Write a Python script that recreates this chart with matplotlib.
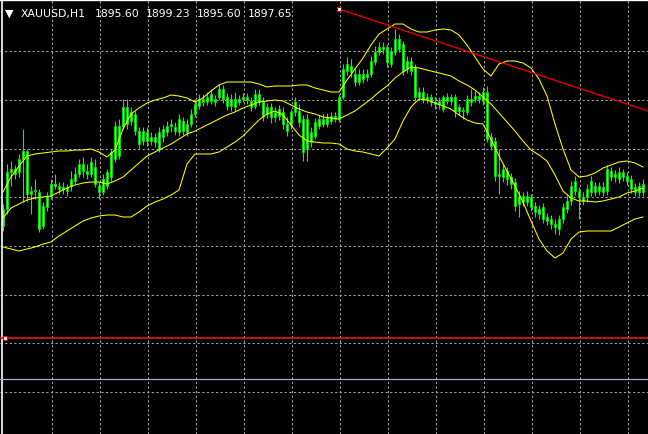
import numpy as np
import matplotlib
matplotlib.use("Agg")
import matplotlib.pyplot as plt

# XAUUSD H1 candles (prices)
opens = [1897.3, 1899.0, 1902.7, 1903.0, 1902.7, 1904.0, 1904.8, 1900.5, 1900.8, 1900.7,
         1897.3, 1899.2, 1900.3, 1901.5, 1901.3, 1901.0, 1901.2, 1901.3, 1901.8, 1902.5,
         1903.5, 1902.8, 1902.5, 1903.2, 1901.3, 1900.7, 1901.3, 1902.2, 1904.0, 1907.3,
         1907.3, 1909.2, 1907.8, 1908.5, 1906.8, 1905.8, 1906.7, 1905.8, 1906.2, 1905.0,
         1906.2, 1906.7, 1907.3, 1907.2, 1906.7, 1907.8, 1906.7, 1907.5, 1908.5, 1909.3,
         1910.0, 1909.7, 1909.8, 1910.0, 1910.2, 1911.0, 1910.2, 1909.3, 1910.0, 1909.7,
         1910.0, 1910.2, 1909.8, 1909.3, 1910.5, 1909.8, 1908.5, 1909.2, 1908.2, 1908.3,
         1908.7, 1907.5, 1907.5, 1908.7, 1908.8, 1908.0, 1905.0, 1906.7, 1906.3, 1907.3,
         1908.0, 1907.5, 1907.8, 1908.3, 1908.0, 1910.2, 1912.8, 1913.3, 1912.5, 1911.7,
         1912.5, 1912.2, 1912.5, 1913.7, 1914.7, 1915.2, 1915.2, 1913.5, 1914.7, 1916.0,
         1915.5, 1913.0, 1913.8, 1913.2, 1910.2, 1910.7, 1910.0, 1910.2, 1909.7, 1909.5,
         1910.2, 1909.8, 1910.2, 1910.2, 1908.8, 1908.8, 1908.7, 1910.0, 1910.0, 1910.3,
         1909.8, 1910.7, 1906.2, 1905.8, 1902.3, 1902.2, 1902.8, 1902.2, 1901.7, 1899.5,
         1900.3, 1899.7, 1900.2, 1899.3, 1899.0, 1899.2, 1898.2, 1898.0, 1897.5, 1897.0,
         1898.0, 1899.0, 1899.8, 1900.8, 1900.8, 1900.2, 1900.2, 1900.7, 1901.3, 1900.8,
         1901.2, 1900.8, 1902.8, 1902.2, 1902.0, 1902.7, 1902.3, 1902.0, 1901.2, 1900.7,
         1900.7]
highs = [1899.5, 1903.5, 1903.8, 1903.4, 1904.5, 1907.0, 1905.0, 1901.3, 1902.0, 1901.0,
         1899.7, 1900.7, 1902.0, 1902.5, 1901.7, 1901.7, 1901.5, 1902.8, 1903.2, 1904.0,
         1904.2, 1903.5, 1904.2, 1904.0, 1901.7, 1902.5, 1903.0, 1905.0, 1907.8, 1908.0,
         1910.0, 1910.0, 1909.2, 1908.8, 1907.2, 1907.2, 1907.2, 1906.7, 1906.6, 1907.2,
         1907.4, 1907.8, 1908.0, 1907.7, 1908.5, 1908.2, 1908.0, 1909.0, 1910.0, 1910.5,
         1910.5, 1910.7, 1911.0, 1910.4, 1911.5, 1911.4, 1910.6, 1910.5, 1910.7, 1910.4,
         1910.6, 1910.6, 1910.2, 1911.0, 1911.0, 1910.2, 1909.6, 1909.6, 1909.2, 1909.4,
         1909.2, 1908.2, 1909.0, 1910.2, 1909.5, 1908.4, 1908.5, 1907.2, 1908.1, 1908.4,
         1908.5, 1908.6, 1908.7, 1908.7, 1910.5, 1913.5, 1914.2, 1914.0, 1913.0, 1913.0,
         1913.0, 1913.0, 1914.3, 1915.3, 1915.7, 1915.7, 1915.5, 1915.2, 1917.0, 1916.5,
         1915.8, 1914.3, 1914.2, 1913.5, 1911.2, 1911.2, 1910.6, 1910.5, 1910.2, 1910.2,
         1910.4, 1910.6, 1910.5, 1910.5, 1909.5, 1909.2, 1910.4, 1911.0, 1910.8, 1910.7,
         1911.2, 1911.3, 1906.6, 1906.2, 1905.0, 1903.5, 1903.2, 1902.6, 1902.1, 1900.8,
         1900.7, 1900.8, 1900.5, 1899.7, 1899.4, 1899.6, 1898.6, 1898.4, 1898.0, 1898.4,
         1899.6, 1900.4, 1901.8, 1902.3, 1901.2, 1900.7, 1901.5, 1902.3, 1901.7, 1901.7,
         1901.7, 1903.4, 1903.2, 1902.9, 1903.2, 1903.0, 1902.7, 1902.4, 1901.6, 1901.7,
         1902.0]
lows = [1896.8, 1898.5, 1901.3, 1902.0, 1902.2, 1899.7, 1899.7, 1898.5, 1900.0, 1896.7,
        1897.0, 1898.8, 1900.0, 1901.0, 1900.5, 1900.5, 1900.3, 1900.8, 1901.5, 1902.2,
        1902.2, 1902.0, 1902.2, 1901.2, 1900.0, 1900.4, 1901.0, 1901.8, 1903.7, 1904.0,
        1907.0, 1907.0, 1907.4, 1906.4, 1905.0, 1905.4, 1905.3, 1905.4, 1905.2, 1904.7,
        1905.7, 1906.3, 1906.7, 1906.4, 1906.3, 1906.4, 1906.3, 1907.2, 1908.2, 1909.0,
        1909.3, 1909.4, 1909.5, 1909.3, 1909.9, 1909.6, 1908.9, 1908.8, 1908.8, 1909.4,
        1909.7, 1909.5, 1908.8, 1909.0, 1909.4, 1907.8, 1908.1, 1907.6, 1907.7, 1907.9,
        1907.0, 1906.3, 1907.0, 1908.3, 1907.2, 1903.8, 1903.8, 1905.2, 1906.0, 1907.0,
        1907.2, 1907.2, 1907.5, 1907.7, 1907.7, 1910.0, 1912.4, 1912.2, 1911.3, 1911.4,
        1911.6, 1911.8, 1912.2, 1913.4, 1914.4, 1914.5, 1913.2, 1913.2, 1914.4, 1914.7,
        1912.4, 1912.6, 1912.4, 1909.8, 1909.9, 1909.6, 1909.6, 1909.3, 1909.0, 1909.0,
        1908.7, 1909.5, 1909.4, 1908.2, 1908.4, 1908.0, 1908.4, 1909.3, 1909.7, 1909.6,
        1909.4, 1905.7, 1904.9, 1901.8, 1900.5, 1901.7, 1901.4, 1901.0, 1898.8, 1898.2,
        1899.3, 1899.3, 1898.8, 1898.2, 1898.0, 1897.6, 1897.4, 1897.0, 1896.5, 1896.4,
        1897.6, 1898.6, 1899.4, 1900.4, 1898.0, 1899.4, 1899.7, 1900.3, 1900.3, 1900.4,
        1900.3, 1900.4, 1901.8, 1901.7, 1901.6, 1901.8, 1901.4, 1900.6, 1900.3, 1900.3,
        1900.3]
closes = [1899.0, 1902.7, 1903.0, 1902.5, 1904.0, 1904.8, 1900.5, 1900.8, 1900.7, 1897.0,
          1899.3, 1900.3, 1901.5, 1901.3, 1901.0, 1901.2, 1900.8, 1902.0, 1902.5, 1903.5,
          1902.8, 1902.5, 1903.7, 1901.5, 1900.7, 1902.0, 1902.7, 1904.7, 1907.3, 1904.3,
          1909.2, 1907.5, 1908.7, 1906.8, 1905.5, 1906.8, 1905.8, 1906.2, 1905.7, 1906.7,
          1907.0, 1907.3, 1907.5, 1906.8, 1908.0, 1906.8, 1907.5, 1908.5, 1909.5, 1910.0,
          1909.7, 1910.2, 1910.5, 1909.7, 1911.0, 1910.0, 1909.3, 1910.0, 1909.2, 1910.0,
          1910.2, 1909.9, 1909.2, 1910.5, 1909.7, 1908.3, 1909.2, 1908.2, 1908.7, 1909.0,
          1907.5, 1906.8, 1908.7, 1909.7, 1907.7, 1904.7, 1908.0, 1905.7, 1907.7, 1908.0,
          1907.5, 1908.2, 1908.3, 1908.0, 1910.2, 1913.0, 1913.5, 1912.7, 1911.7, 1912.5,
          1912.0, 1912.5, 1913.8, 1914.7, 1915.2, 1915.0, 1913.7, 1914.8, 1916.0, 1915.0,
          1912.8, 1913.8, 1912.8, 1910.2, 1910.7, 1910.0, 1910.2, 1909.7, 1909.5, 1909.8,
          1909.0, 1910.2, 1909.8, 1908.8, 1909.2, 1908.7, 1910.0, 1909.7, 1910.3, 1910.0,
          1910.7, 1906.0, 1905.3, 1902.3, 1902.5, 1903.0, 1902.0, 1901.5, 1899.3, 1900.3,
          1899.7, 1900.3, 1899.2, 1898.7, 1898.5, 1898.0, 1897.8, 1897.5, 1897.2, 1898.0,
          1899.2, 1899.8, 1901.3, 1901.8, 1900.2, 1899.8, 1901.0, 1901.8, 1900.7, 1901.3,
          1900.7, 1903.0, 1902.2, 1902.5, 1902.7, 1902.2, 1901.8, 1901.0, 1900.7, 1901.3,
          1901.5]

# Bollinger bands, read every second bar
bb_upper = [1900.7, 1902.2, 1903.3, 1904.3, 1904.5, 1904.6, 1904.7, 1904.8, 1904.8, 1904.9,
            1904.9, 1905.0, 1904.7, 1904.2, 1904.9, 1907.0, 1908.5, 1909.1, 1909.6, 1909.9,
            1910.1, 1910.4, 1910.3, 1910.1, 1909.7, 1910.1, 1910.8, 1911.4, 1911.7, 1911.7,
            1911.7, 1911.7, 1911.5, 1911.2, 1911.3, 1911.3, 1911.3, 1911.4, 1911.4, 1911.1,
            1910.9, 1910.7, 1910.7, 1911.9, 1913.0, 1914.1, 1915.4, 1916.5, 1917.0, 1917.5,
            1917.5, 1917.0, 1916.7, 1916.7, 1916.9, 1917.0, 1916.9, 1916.4, 1915.4, 1914.2,
            1913.0, 1912.3, 1913.5, 1913.8, 1913.8, 1913.6, 1913.1, 1912.0, 1910.3, 1907.5,
            1905.0, 1902.9, 1902.2, 1902.3, 1902.6, 1903.1, 1903.4, 1903.7, 1903.8, 1903.6,
            1903.2]
bb_middle = [1898.1, 1899.1, 1899.5, 1899.9, 1900.1, 1900.2, 1900.3, 1900.7, 1901.1, 1901.4,
             1901.6, 1901.7, 1901.7, 1901.5, 1901.8, 1902.2, 1902.9, 1903.6, 1904.3, 1904.7,
             1905.1, 1905.5, 1906.0, 1906.5, 1906.8, 1907.2, 1907.6, 1908.0, 1908.4, 1908.7,
             1909.1, 1909.4, 1909.7, 1909.8, 1909.9, 1909.8, 1909.4, 1909.0, 1908.7, 1908.5,
             1908.2, 1908.1, 1908.0, 1908.4, 1908.8, 1909.4, 1910.0, 1910.7, 1911.3, 1912.1,
             1912.7, 1913.2, 1913.1, 1912.9, 1912.7, 1912.5, 1912.3, 1911.8, 1911.4, 1910.9,
             1910.2, 1909.5, 1908.6, 1907.7, 1906.8, 1905.8, 1904.9, 1904.4, 1903.8, 1902.4,
             1900.8, 1900.1, 1899.8, 1899.8, 1899.7, 1899.8, 1900.0, 1900.2, 1900.6, 1900.8,
             1901.1]
bb_lower = [1895.2, 1895.0, 1894.8, 1895.0, 1895.2, 1895.5, 1895.7, 1896.3, 1896.8, 1897.3,
            1897.8, 1898.1, 1898.3, 1898.4, 1898.4, 1898.2, 1898.2, 1898.7, 1899.3, 1899.7,
            1900.0, 1900.4, 1900.9, 1903.5, 1904.5, 1904.5, 1904.5, 1904.7, 1905.2, 1905.7,
            1906.3, 1907.1, 1907.9, 1908.5, 1908.8, 1908.4, 1907.4, 1906.4, 1905.8, 1905.7,
            1905.6, 1905.6, 1905.5, 1905.0, 1904.8, 1904.7, 1904.5, 1904.3, 1905.1, 1906.0,
            1907.8, 1909.2, 1910.0, 1909.9, 1909.6, 1909.3, 1909.0, 1908.4, 1907.9, 1907.6,
            1907.5, 1906.0, 1904.3, 1902.8, 1901.3, 1899.7, 1897.8, 1896.0, 1894.8, 1894.1,
            1894.6, 1896.0, 1896.7, 1896.8, 1896.8, 1896.8, 1896.8, 1897.2, 1897.6, 1898.0,
            1898.2]

# drawn objects
trend_bars = [84, 161.25]
trend_prices = [1919.0, 1908.8]
hline_price = 1886.1
ask_price = 1882.0
symbol = "XAUUSD,H1"
header_values = ["1895.60", "1899.23", "1895.60", "1897.65"]

W, H = 648, 435
fig = plt.figure(figsize=(W / 100, H / 100), dpi=100)
fig.patch.set_facecolor("black")
ax = fig.add_axes([0, 0, 1, 1])
ax.set_facecolor("black")
ax.set_xlim(-0.75, 161.25)
ax.set_ylim(1876.5, 1920.0)
ax.axis("off")

# dashed grid
for gx in np.arange(12.25, 161, 12):
    ax.axvline(gx, color="#a0a0a0", lw=0.75, dashes=(2.2, 2.2), zorder=1)
for gy in np.arange(1880.7, 1916, 4.87):
    ax.axhline(gy, color="#a0a0a0", lw=0.75, dashes=(2.2, 2.2), zorder=1)

# chart frame (left and top)
ax.axvline(-0.25, color="white", lw=1.2, zorder=6)
ax.axhline(1919.9, color="white", lw=1.0, zorder=6)

# candles
idx = np.arange(len(closes))
o = np.array(opens)
c = np.array(closes)
ax.vlines(idx, lows, highs, color="#00ff00", lw=0.8, zorder=3)
body_h = np.where(np.abs(c - o) < 0.15, 0.15, c - o)
ax.bar(idx, body_h, bottom=o, width=0.72, color="#44ff44",
       edgecolor="#00e000", linewidth=0.6, zorder=4)

# bollinger bands
bx = np.arange(0, len(closes), 2)
for band in (bb_upper, bb_middle, bb_lower):
    ax.plot(bx, band, color="#ffff00", lw=0.75, zorder=5)

# trend line and horizontal lines
ax.plot(trend_bars, trend_prices, color="#e00000", lw=1.0, zorder=6)
ax.plot(trend_bars[0], trend_prices[0], marker="s", ms=3.5, mfc="white",
        mec="#e00000", mew=0.8, zorder=7)
ax.axhline(hline_price, color="#d01818", lw=1.3, zorder=6)
ax.plot(0.5, hline_price, marker="s", ms=3.5, mfc="white", mec="#e00000",
        mew=0.8, zorder=7)
ax.axhline(ask_price, color="#a8aeb8", lw=0.9, zorder=6)

# header
base = 1 - 17 / H
fig.text(4.5 / W, base, "\u25bc", color="white", fontsize=8,
         family="DejaVu Sans", va="baseline")
fig.text(21 / W, base, symbol, color="white", fontsize=7.8,
         family="DejaVu Sans", va="baseline")
for k, val in enumerate(header_values):
    fig.text((95 + 51 * k) / W, base, val, color="white", fontsize=7.8,
             family="DejaVu Sans", va="baseline")

fig.savefig("out.png", dpi=100, facecolor="black")
